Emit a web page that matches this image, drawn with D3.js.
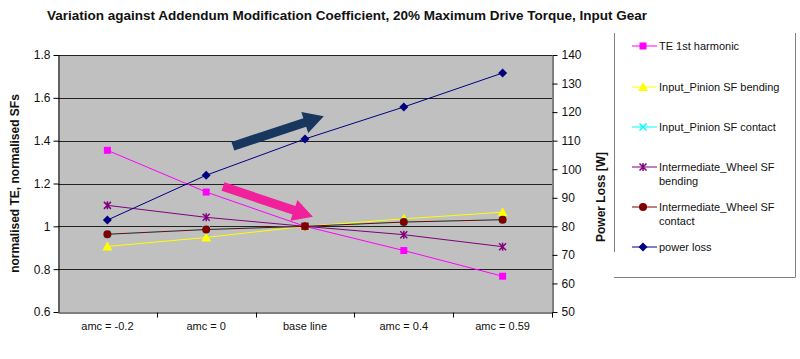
<!DOCTYPE html>
<html>
<head>
<meta charset="utf-8">
<script src="https://cdn.jsdelivr.net/npm/d3@7"></script>
<style>
	body { margin: 0; background: #fff; }
	text { font-family: "Liberation Sans", Arial, sans-serif; }
</style>
</head>
<body>
<script>
"use strict";

//chart data
const categories = ["amc = -0.2", "amc = 0", "base line", "amc = 0.4", "amc = 0.59"];
const te_first = [1.355, 1.16, 1.0, 0.887, 0.767];
const pinion_bending = [0.906, 0.948, 1.0, 1.035, 1.066];
const pinion_contact = [0.963, 0.985, 1.0, 1.02, 1.031];
const wheel_bending = [1.098, 1.042, 1.0, 0.961, 0.905];
const wheel_contact = [0.963, 0.985, 1.0, 1.02, 1.031];
const power_loss = [82.2, 97.9, 110.6, 121.8, 133.7];
const left_ticks = [0.6, 0.8, 1, 1.2, 1.4, 1.6, 1.8];
const right_ticks = [50, 60, 70, 80, 90, 100, 110, 120, 130, 140];

//annotation arrows, [category index, left axis value] for tail and tip
const arrows = [
	{from: [1.27, 1.374], to: [2.19, 1.514], color: "#17375e"},
	{from: [1.17, 1.186], to: [2.08, 1.045], color: "#f0219b"}
];

const series = [
	{name: "TE 1st harmonic", values: te_first, color: "#ff00ff", shape: "square", axis: "left"},
	{name: "Input_Pinion SF bending", values: pinion_bending, color: "#ffff00", shape: "triangle", axis: "left"},
	{name: "Input_Pinion SF contact", values: pinion_contact, color: "#00ffff", shape: "x", axis: "left"},
	{name: ["Intermediate_Wheel SF", "bending"], values: wheel_bending, color: "#800080", shape: "star", axis: "left"},
	{name: ["Intermediate_Wheel SF", "contact"], values: wheel_contact, color: "#800000", shape: "circle", axis: "left"},
	{name: "power loss", values: power_loss, color: "#000080", shape: "diamond", axis: "right"}
];

const width = 800, height = 359;
const plot = {left: 58, right: 552, top: 55, bottom: 312};

let svg = d3.select("body").append("svg")
	.attr("width", width)
	.attr("height", height);

let x = d3.scaleBand().domain(categories).range([plot.left, plot.right]);
let xi = d3.scaleLinear().domain([-0.5, categories.length - 0.5]).range([plot.left, plot.right]);
let y = d3.scaleLinear().domain([0.6, 1.8]).range([plot.bottom, plot.top]);
let y2 = d3.scaleLinear().domain([50, 140]).range([plot.bottom, plot.top]);

//title
svg.append("text")
	.attr("x", 47)
	.attr("y", 20)
	.attr("font-size", 13)
	.attr("font-weight", "bold")
	.attr("fill", "#111")
	.attr("textLength", 600)
	.attr("lengthAdjust", "spacingAndGlyphs")
	.text("Variation against Addendum Modification Coefficient, 20% Maximum Drive Torque, Input Gear");

//plot background and grid
svg.append("rect")
	.attr("x", plot.left)
	.attr("y", plot.top)
	.attr("width", plot.right - plot.left)
	.attr("height", plot.bottom - plot.top)
	.attr("fill", "#c0c0c0");

svg.append("g")
	.selectAll("line")
	.data(left_ticks.slice(1))
	.join("line")
	.attr("x1", plot.left)
	.attr("x2", plot.right)
	.attr("y1", d => Math.round(y(d)) + 0.5)
	.attr("y2", d => Math.round(y(d)) + 0.5)
	.attr("stroke", "#222")
	.attr("stroke-width", 1);

//left axis
let left_axis = svg.append("g")
	.attr("transform", "translate(" + (plot.left + 0.5) + ",0)")
	.call(d3.axisLeft(y).tickValues(left_ticks).tickFormat(d3.format("")).tickSize(5).tickSizeOuter(0));
left_axis.selectAll("text").attr("font-size", 12).attr("fill", "#111").attr("x", -8);
left_axis.selectAll("line, path").attr("stroke", "#000");

//right axis
let right_axis = svg.append("g")
	.attr("transform", "translate(" + (plot.right + 0.5) + ",0)")
	.call(d3.axisRight(y2).tickValues(right_ticks).tickSize(5).tickSizeOuter(0));
right_axis.selectAll("text").attr("font-size", 12).attr("fill", "#111").attr("x", 9);
right_axis.selectAll("line, path").attr("stroke", "#000");

//bottom axis, ticks between the categories
let bottom_axis = svg.append("g")
	.attr("transform", "translate(0," + (plot.bottom + 0.5) + ")")
	.call(d3.axisBottom(x).tickSize(0).tickSizeOuter(0));
bottom_axis.select(".domain").attr("stroke", "#000");
bottom_axis.selectAll("text").attr("font-size", 11).attr("fill", "#111").attr("dy", "1.35em");
bottom_axis.selectAll(".sep")
	.data(categories)
	.join("line")
	.attr("class", "sep")
	.attr("x1", d => Math.round(x(d) + x.bandwidth()) + 0.5)
	.attr("x2", d => Math.round(x(d) + x.bandwidth()) + 0.5)
	.attr("y1", 0)
	.attr("y2", 5)
	.attr("stroke", "#000");

//axis titles
svg.append("text")
	.attr("transform", "translate(19," + ((plot.top + plot.bottom) / 2) + ") rotate(-90)")
	.attr("text-anchor", "middle")
	.attr("font-size", 12)
	.attr("font-weight", "bold")
	.attr("fill", "#111")
	.text("normalised TE, normalised SFs");
svg.append("text")
	.attr("transform", "translate(605,197) rotate(-90)")
	.attr("text-anchor", "middle")
	.attr("font-size", 12)
	.attr("font-weight", "bold")
	.attr("fill", "#111")
	.text("Power Loss [W]");

//markers
function marker(g, shape, color)
{
	if (shape === "square")
		g.append("rect").attr("x", -3.5).attr("y", -3.5).attr("width", 7).attr("height", 7).attr("fill", color);
	else if (shape === "triangle")
		g.append("path").attr("d", "M0,-5L5,4L-5,4Z").attr("fill", color);
	else if (shape === "diamond")
		g.append("path").attr("d", "M0,-4.5L4.5,0L0,4.5L-4.5,0Z").attr("fill", color);
	else if (shape === "circle")
		g.append("circle").attr("r", 4).attr("fill", color);
	else if (shape === "x")
		g.append("path").attr("d", "M-3.5,-3.5L3.5,3.5M3.5,-3.5L-3.5,3.5").attr("stroke", color).attr("stroke-width", 1.5);
	else if (shape === "star")
		g.append("path").attr("d", "M-3.5,-3.5L3.5,3.5M3.5,-3.5L-3.5,3.5M0,-4L0,4").attr("stroke", color).attr("stroke-width", 1.5);
}

//lines and points
let line_func = d3.line()
	.x(function(d) { return x(d[0]) + x.bandwidth() / 2; })
	.y(function(d) { return d[1]; });

for (let s of series)
{
	let scale = s.axis === "left" ? y : y2;
	let pts = s.values.map(function(v, i) { return [categories[i], scale(v)]; });
	svg.append("path")
		.attr("d", line_func(pts))
		.attr("fill", "none")
		.attr("stroke", s.color)
		.attr("stroke-width", 1);
	for (let p of pts)
	{
		let g = svg.append("g")
			.attr("transform", "translate(" + (x(p[0]) + x.bandwidth() / 2) + "," + p[1] + ")");
		marker(g, s.shape, s.color);
	}
}

//annotation arrows
for (let a of arrows)
{
	let x0 = xi(a.from[0]), y0 = y(a.from[1]);
	let x1 = xi(a.to[0]), y1 = y(a.to[1]);
	let len = Math.hypot(x1 - x0, y1 - y0);
	let ang = Math.atan2(y1 - y0, x1 - x0) * 180 / Math.PI;
	let shaft = 4.5, head_len = 20, head_w = 11;
	svg.append("path")
		.attr("transform", "translate(" + x0 + "," + y0 + ") rotate(" + ang + ")")
		.attr("d", "M0," + (-shaft) + "L" + (len - head_len) + "," + (-shaft) +
			"L" + (len - head_len) + "," + (-head_w) + "L" + len + ",0L" + (len - head_len) + "," + head_w +
			"L" + (len - head_len) + "," + shaft + "L0," + shaft + "Z")
		.attr("fill", a.color);
}

//legend
let legend = svg.append("g");
legend.append("path")
	.attr("d", "M614.5,33V252M795.5,33V277.5H614")
	.attr("fill", "none")
	.attr("stroke", "#808080");
let legend_y = [46, 87, 127, 167, 207, 247];
series.forEach(function(s, i)
{
	let ly = legend_y[i];
	legend.append("line")
		.attr("x1", 632).attr("x2", 657)
		.attr("y1", ly).attr("y2", ly)
		.attr("stroke", s.color);
	marker(legend.append("g").attr("transform", "translate(643," + ly + ")"), s.shape, s.color);
	let lines = Array.isArray(s.name) ? s.name : [s.name];
	lines.forEach(function(t, j)
	{
		legend.append("text")
			.attr("x", 659)
			.attr("y", ly + 4 + j * 14)
			.attr("font-size", 11)
			.attr("fill", "#111")
			.text(t);
	});
});
</script>
</body>
</html>
